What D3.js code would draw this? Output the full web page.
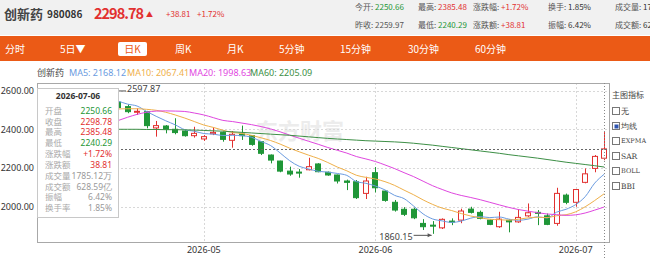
<!DOCTYPE html>
<html><head><meta charset="utf-8">
<script src="https://cdn.jsdelivr.net/npm/d3@7"></script>
<style>
body{margin:0;background:#fff;overflow:hidden;}
svg{display:block;font-family:"Noto Sans CJK SC","Noto Sans",sans-serif;}
</style></head><body>
<svg id="c" width="650" height="259"></svg>
<script>
// ---------- data ----------
const dates = ["2026-04-08","2026-04-09","2026-04-10","2026-04-13","2026-04-14","2026-04-15","2026-04-16","2026-04-17","2026-04-20","2026-04-21","2026-04-22","2026-04-23","2026-04-24","2026-04-27","2026-04-28","2026-04-29","2026-04-30",
"2026-05-06","2026-05-07","2026-05-08","2026-05-11","2026-05-12","2026-05-13","2026-05-14","2026-05-15","2026-05-18","2026-05-19","2026-05-20","2026-05-21","2026-05-22","2026-05-25","2026-05-26","2026-05-27","2026-05-28","2026-05-29",
"2026-06-01","2026-06-02","2026-06-03","2026-06-04","2026-06-05","2026-06-08","2026-06-09","2026-06-10","2026-06-11","2026-06-12","2026-06-15","2026-06-16","2026-06-17","2026-06-18","2026-06-22","2026-06-23","2026-06-24","2026-06-25","2026-06-26","2026-06-29","2026-06-30",
"2026-07-01","2026-07-02","2026-07-03","2026-07-06"];
const openP = [2480,2500,2530,2548,2560,2572,2540,2560,2540,2517,2489,2491,2407,2417,2400,2391,2367,2350,2377,2383,2343,2376,2367,2336,2267,2236,2184,2179,2191,2221,2178,2164,2133,2129,2069,2176,2081,2023,1987,1987,1914,1905,1891,1926,1931,1988,1971,1931,1897,1930,1922,1953,1971,1953,1914,2060,2023,2126,2198,2250.66];
const highP = [2512,2540,2562,2580,2588,2585,2575,2580,2597.87,2529,2508,2495,2443,2422,2457,2395,2413,2370,2410,2388,2391,2419,2370,2338,2270,2238,2207,2195,2253,2225,2182,2166,2140,2138,2155,2205,2085,2035,1998,1995,1936,1926,1940,1940,1990,2000,1980,1935,1974,1936,1987,2017,1983,1965,2098,2068,2090,2198,2267,2385.48];
const lowP = [2466,2490,2515,2530,2540,2530,2525,2530,2505,2483,2474,2405,2362,2379,2374,2362,2357,2340,2370,2336,2305,2345,2315,2267,2224,2178,2160,2150,2188,2178,2160,2120,2086,2040,2040,2074,2026,1975,1952,1936,1880,1860.15,1885,1905,1915,1965,1935,1905,1891,1868,1917,1948,1905,1905,1902,2013,2000,2121,2178,2240.29];
const closeP = [2500,2530,2548,2560,2575,2540,2560,2545,2512,2491,2493,2419,2419,2400,2383,2367,2379,2362,2384,2348,2374,2367,2322,2276,2241,2184,2169,2174,2207,2181,2164,2133,2126,2047,2133,2098,2033,1983,1961,1943,1897,1900,1935,1921,1978,1971,1940,1909,1936,1922,1945,1969,1966,1909,2069,2023,2089,2170,2259.97,2298.78];
const ma5 = [null,null,null,null,null,null,null,null,2546,2530,2520,2492,2467,2444,2423,2398,2390,2378,2375,2368,2369,2367,2359,2337,2316,2278,2238,2209,2195,2183,2179,2172,2162,2130,2121,2107,2087,2059,2042,2004,1963,1937,1927,1919,1926,1941,1949,1944,1947,1936,1930,1936,1948,1942,1972,1987,2011,2052,2122,2168.12];
const ma10 = [null,null,null,null,null,null,null,null,2505,2506,2506,2503,2498,2488,2474,2458,2440,2422,2409.7,2395.4,2383.5,2378.3,2368.6,2356.2,2342,2323.7,2302.7,2283.9,2266.2,2249.5,2228.5,2205.1,2185.5,2162.6,2151.8,2143.2,2129.6,2110.5,2085.9,2062.1,2035.4,2012.1,1993,1980.4,1964.9,1952.2,1942.9,1935.5,1933,1930.9,1935.7,1942.6,1945.7,1944.5,1953.6,1958.8,1973.7,1999.8,2032.2,2067.41];
const ma20 = [null,null,null,null,null,null,null,null,2445,2462,2477,2488,2494,2495,2494,2492,2484,2474,2460,2446,2440,2432,2424,2414,2402,2387,2370,2354,2338,2322.5,2306,2291.7,2277,2259.4,2246.9,2233.5,2216,2197.2,2176,2155.8,2132,2108.6,2089.3,2071.5,2058.4,2047.7,2036.3,2023,2009.5,1996.5,1985.6,1977.4,1969.4,1962.5,1959.3,1955.5,1958.3,1967.7,1982.6,1998.63];
const ma60 = [null,null,null,null,null,null,null,null,2400,2400,2400,2399,2399,2398,2398,2397,2396,2394,2392,2390,2387,2384,2381,2378,2375,2372,2369,2365,2361,2357,2353,2350,2347,2344,2341,2339,2337,2335,2332,2328,2323,2318,2312,2306,2300,2294,2288,2282,2276,2269,2263,2257,2251,2244,2237,2230,2224,2218,2212,2205.09];
const yTicks = [2000,2200,2400,2600];
const monthTicks = ["2026-05","2026-06","2026-07"];
const maNames = ["MA5","MA10","MA20","MA60"];
const tipLabels = ["开盘","收盘","最高","最低","涨跌幅","涨跌额","成交量","成交额","振幅","换手率"];
const tipValues = ["2250.66","2298.78","2385.48","2240.29","+1.72%","38.81","1785.12万","628.59亿","6.42%","1.85%"];
const navItems = ["分时","5日▼","日K","周K","月K","5分钟","15分钟","30分钟","60分钟"];
const indicatorItems = ["无","均线","EXPMA","SAR","BOLL","BBI"];
const statsRow1 = [["今开: ","2250.66"],["最高: ","2385.48"],["涨跌幅: ","+1.72%"],["换手: ","1.85%"],["成交量: ","1785.12万"]];
const statsRow2 = [["昨收: ","2259.97"],["最低: ","2240.29"],["涨跌额: ","+38.81"],["振幅: ","6.42%"],["成交额: ","628.59亿"]];

// ---------- styles ----------
const RED = "#e2302f", GREEN = "#1f9637";
const maColors = ["#6a9be0","#efb04a","#df47df","#3d8f46"];
const svg = d3.select("#c");
const L = 37, R = 609, T = 83, B = 242;

// header
svg.append("rect").attr("x",0).attr("y",0).attr("width",650).attr("height",35).attr("fill","#f1f1f1");
const hdr = svg.append("g");
hdr.append("text").attr("x",4).attr("y",14).attr("dy","0.35em").attr("font-size",13).attr("font-weight","bold").attr("fill","#444").text("创新药");
hdr.append("text").attr("x",47).attr("y",14).attr("dy","0.35em").attr("font-size",10).attr("font-weight","bold").attr("fill","#333").text("980086");
hdr.append("text").attr("x",94).attr("y",14).attr("dy","0.35em").attr("font-size",14.5).attr("font-weight","bold").attr("fill",RED).attr("textLength",50).text("2298.78");
hdr.append("text").attr("x",146).attr("y",15).attr("dy","0.35em").attr("font-size",7).attr("fill",RED).text("▲");
hdr.append("text").attr("x",166).attr("y",14).attr("dy","0.35em").attr("font-size",8).attr("fill",RED).text("+38.81");
hdr.append("text").attr("x",197).attr("y",14).attr("dy","0.35em").attr("font-size",8).attr("fill",RED).text("+1.72%");
const statX = [355,418,473,548,615];
const valColor = {"今开: ":GREEN,"最高: ":RED,"涨跌幅: ":RED,"换手: ":"#333","成交量: ":"#333","昨收: ":"#555","最低: ":GREEN,"涨跌额: ":RED,"振幅: ":"#333","成交额: ":"#333"};
[[statsRow1,7.5],[statsRow2,25]].forEach(([row,yy])=>{
  row.forEach((d,i)=>{
    const t = hdr.append("text").attr("x",statX[i]).attr("y",yy).attr("dy","0.35em").attr("font-size",8);
    t.append("tspan").attr("fill","#555").text(d[0]);
    t.append("tspan").attr("fill",valColor[d[0]]).text(d[1]);
  });
});

// nav bar
svg.append("rect").attr("x",0).attr("y",36).attr("width",650).attr("height",25).attr("fill","#eb5a16");
const navX = [5,60,132.5,175,227,279,340,408,475];
navItems.forEach((s,i)=>{
  if (s==="日K") {
    svg.append("rect").attr("x",118).attr("y",42).attr("width",29).attr("height",14).attr("rx",2).attr("fill","#fff");
    svg.append("text").attr("x",navX[i]).attr("y",49).attr("dy","0.35em").attr("text-anchor","middle").attr("font-size",10).attr("fill","#eb5a16").text(s);
  } else {
    svg.append("text").attr("x",navX[i]).attr("y",49).attr("dy","0.35em").attr("font-size",10).attr("fill","#fff").text(s);
  }
});

// scales
const x = d3.scaleBand().domain(dates).range([L,R]).paddingInner(0.36).paddingOuter(0.18);
const cx = d => x(d) + x.bandwidth()/2;
const y = d3.scaleLinear().domain([1818,2639]).range([B,T]);

// watermark
svg.append("text").attr("x",300).attr("y",131).attr("dy","0.35em").attr("font-size",22).attr("font-weight","bold").attr("fill","#ececec").attr("text-anchor","middle").text("东方财富");

// grid
const grid = svg.append("g");
yTicks.forEach(v=>{
  grid.append("line").attr("x1",L).attr("x2",R).attr("y1",Math.round(y(v))+0.5).attr("y2",Math.round(y(v))+0.5).attr("stroke","#d8d8d8").attr("stroke-dasharray","2,2");
});
const monthIdx = monthTicks.map(m => dates.findIndex(d => d.startsWith(m)));
monthIdx.forEach(i=>{
  const xx = Math.round(cx(dates[i]))+0.5;
  grid.append("line").attr("x1",xx).attr("x2",xx).attr("y1",T).attr("y2",B).attr("stroke","#d8d8d8").attr("stroke-dasharray","2,2");
});

// y axis labels
const yAxis = d3.axisLeft(y).tickValues(yTicks).tickFormat(d3.format(".2f")).tickSize(0).tickPadding(3);
const ya = svg.append("g").attr("transform",`translate(${L},0)`).call(yAxis);
ya.select(".domain").remove();
ya.selectAll("text").attr("font-size",9).attr("fill","#333").attr("font-family","Noto Sans, sans-serif");

// x axis labels
const xAxis = d3.axisBottom(x).tickValues(monthIdx.map(i=>dates[i])).tickFormat((d,i)=>monthTicks[i]).tickSize(0).tickPadding(5);
const xa = svg.append("g").attr("transform",`translate(0,${B})`).call(xAxis);
xa.select(".domain").remove();
xa.selectAll("text").attr("font-size",9).attr("fill","#333").attr("font-family","Noto Sans, sans-serif");

// candles
const cg = svg.append("g");
dates.forEach((d,i)=>{
  const up = closeP[i] >= openP[i];
  const col = up ? RED : GREEN;
  const xc = Math.round(cx(d)) + 0.5;
  cg.append("line").attr("x1",xc).attr("x2",xc).attr("y1",y(highP[i])).attr("y2",y(lowP[i])).attr("stroke",col).attr("stroke-width",1);
  const top = y(Math.max(openP[i],closeP[i])), bot = y(Math.min(openP[i],closeP[i]));
  const w = Math.round(x.bandwidth());
  const x0 = Math.round(cx(d) - w/2) + 0.5;
  cg.append("rect").attr("x",x0).attr("y",top).attr("width",w-1).attr("height",Math.max(1,bot-top))
    .attr("fill", up ? "#fff" : GREEN).attr("stroke",col).attr("stroke-width",1);
});

// MA lines
[ma5,ma10,ma20,ma60].forEach((arr,k)=>{
  const line = d3.line().defined(v=>v!=null).x((v,i)=>cx(dates[i])).y(v=>y(v)).curve(d3.curveMonotoneX);
  svg.append("path").datum(arr).attr("d",line).attr("fill","none").attr("stroke",maColors[k]).attr("stroke-width",1);
});

// plot border
svg.append("rect").attr("x",L+0.5).attr("y",T+0.5).attr("width",R-L).attr("height",B-T).attr("fill","none").attr("stroke","#a8a8a8");

// crosshair
const lastI = dates.length-1;
const cy = Math.round(y(closeP[lastI]))+0.5;
svg.append("line").attr("x1",L).attr("x2",R).attr("y1",cy).attr("y2",cy).attr("stroke","#666").attr("stroke-dasharray","2,2");
const vx = Math.round(cx(dates[lastI]))+0.5;
svg.append("line").attr("x1",vx).attr("x2",vx).attr("y1",T).attr("y2",259).attr("stroke","#888").attr("stroke-dasharray","1,2");

// max / min markers
const maxI = d3.maxIndex(highP), minI = d3.minIndex(lowP);
const my = y(highP[maxI]);
svg.append("line").attr("x1",cx(dates[maxI])).attr("x2",126).attr("y1",my).attr("y2",my).attr("stroke","#555");
svg.append("text").attr("x",127).attr("y",my-2).attr("dy","0.35em").attr("font-size",9).attr("fill","#444").attr("font-family","Noto Sans, sans-serif").text(d3.format(".2f")(highP[maxI]));
const ny = y(lowP[minI]) + 1.5;
const nx = cx(dates[minI]) - 1;
svg.append("line").attr("x1",nx-18).attr("x2",nx).attr("y1",ny).attr("y2",ny).attr("stroke","#555");
svg.append("path").attr("d",`M${nx},${ny} l-4,-2 l0,4 z`).attr("fill","#555");
svg.append("text").attr("x",nx-19).attr("y",ny+1.5).attr("dy","0.35em").attr("text-anchor","end").attr("font-size",9).attr("fill","#444").attr("font-family","Noto Sans, sans-serif").text(d3.format(".2f")(lowP[minI]));

// legend
const lg = svg.append("g").attr("font-size",9);
lg.append("text").attr("x",37).attr("y",73).attr("dy","0.35em").attr("fill","#444").text("创新药");
const lgX = [69,127,189,250];
const lastMA = [ma5,ma10,ma20,ma60].map(a=>a[a.length-1]);
maNames.forEach((n,k)=>{
  lg.append("text").attr("x",lgX[k]).attr("y",73).attr("dy","0.35em").attr("fill",maColors[k]).attr("font-family","Noto Sans, sans-serif").text(`${n}: ${d3.format(".2f")(lastMA[k])}`);
});

// tooltip
const tip = svg.append("g");
tip.append("rect").attr("x",37.5).attr("y",88.5).attr("width",81).attr("height",129).attr("fill","#fff").attr("stroke","#c8c8c8");
tip.append("text").attr("x",78).attr("y",96).attr("dy","0.35em").attr("text-anchor","middle").attr("font-size",8.5).attr("font-weight","bold").attr("fill","#333").attr("font-family","Noto Sans, sans-serif").text(dates[lastI]);
const tipColors = [GREEN,RED,RED,GREEN,RED,RED,"#999","#999","#999","#999"];
tipLabels.forEach((s,i)=>{
  const yy = 110.7 + i*10.85;
  tip.append("text").attr("x",45).attr("y",yy).attr("dy","0.35em").attr("font-size",8.5).attr("fill","#aaa").text(s);
  tip.append("text").attr("x",112).attr("y",yy).attr("dy","0.35em").attr("text-anchor","end").attr("font-size",8.5).attr("fill",tipColors[i]).attr("font-family","Noto Sans, sans-serif").text(tipValues[i]);
});

// right indicator panel
const ip = svg.append("g");
ip.append("text").attr("x",612).attr("y",95).attr("dy","0.35em").attr("font-size",8).attr("fill","#444").text("主图指标");
indicatorItems.forEach((s,i)=>{
  const yy = 111 + i*15;
  ip.append("rect").attr("x",612.5).attr("y",yy-3.5).attr("width",7).attr("height",7).attr("fill","#fff").attr("stroke","#777");
  if (s==="均线") ip.append("rect").attr("x",614.5).attr("y",yy-1.5).attr("width",4).attr("height",4).attr("fill","#2f55b0");
  ip.append("text").attr("x",621).attr("y",yy).attr("dy","0.35em").attr("font-size",s.length>3?6.5:7.5).attr("fill","#444").attr("font-family","DejaVu Serif, serif").text(s);
});
</script>
</body></html>
